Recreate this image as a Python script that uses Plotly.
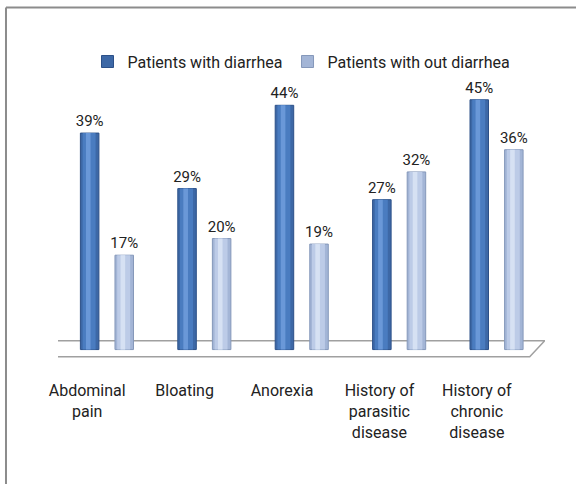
import plotly.graph_objects as go

categories = ["Abdominal<br>pain", "Bloating", "Anorexia",
              "History of<br>parasitic<br>disease", "History of<br>chronic<br>disease"]
with_diarrhea = [39, 29, 44, 27, 45]
without_diarrhea = [17, 20, 19, 32, 36]
series_names = ["Patients with diarrhea", "Patients with out diarrhea"]

FONT = "Roboto, Liberation Sans Narrow, DejaVu Sans Condensed, sans-serif"
xs = list(range(len(categories)))

fig = go.Figure()

BAR_W = 0.19
series = [
    (with_diarrhea, series_names[0], -0.27, "#3d68a6", "#4a7cc0", "#6a98d8", "#2c5088"),
    (without_diarrhea, series_names[1], 0.085, "#a3b5d6", "#bccbe7", "#d6e1f3", "#8598ba"),
]

for vals, name, off, edge, mid, hi, outline in series:
    # main bar (legend entry + labels)
    fig.add_trace(go.Bar(
        x=xs, y=vals, name=name, width=BAR_W, offset=off,
        marker=dict(color=edge, line=dict(color=outline, width=1)),
        text=[f"{v}%" for v in vals], textposition="outside",
        constraintext="none", textangle=0,
        textfont=dict(family=FONT, size=15, color="#222"), cliponaxis=False,
    ))
    # cylinder shading layers
    fig.add_trace(go.Bar(
        x=xs, y=vals, width=BAR_W * 0.7, offset=off + BAR_W * 0.12,
        marker=dict(color=mid, line=dict(width=0)), showlegend=False, hoverinfo="skip",
    ))
    fig.add_trace(go.Bar(
        x=xs, y=vals, width=BAR_W * 0.25, offset=off + BAR_W * 0.3,
        marker=dict(color=hi, line=dict(width=0)), showlegend=False, hoverinfo="skip",
    ))

# decorative floor (parallelogram)
fig.add_shape(type="path", xref="x", yref="y", layer="below",
              path="M -0.528 1.6 L 4.497 1.6 L 4.343 -1.3 L -0.662 -1.3 Z",
              fillcolor="white", line=dict(color="#a0a0a0", width=1.5))
# chart frame (top and left edges)
fig.add_shape(type="line", xref="paper", yref="paper",
              x0=-0.1068, x1=1.2, y0=1.217, y1=1.217, line=dict(color="#8c8c8c", width=2))
fig.add_shape(type="line", xref="paper", yref="paper",
              x0=-0.1068, x1=-0.1068, y0=1.217, y1=-0.4, line=dict(color="#8c8c8c", width=2))

fig.update_layout(
    width=576, height=484,
    margin=dict(l=58, r=31, t=72, b=115),
    paper_bgcolor="white", plot_bgcolor="white",
    barmode="overlay",
    showlegend=True,
    legend=dict(orientation="h", x=0.5, xanchor="center", y=1.035, yanchor="middle",
                font=dict(family=FONT, size=16, color="#222"),
                itemwidth=30, traceorder="normal"),
    xaxis=dict(range=[-0.5, 4.5], tickvals=[x - 0.2 for x in xs], ticktext=categories,
               showgrid=False, zeroline=False, showline=False, ticks="",
               tickfont=dict(family=FONT, size=16, color="#222"), ticklabelstandoff=10),
    yaxis=dict(range=[-3.5, 50], visible=False, showgrid=False, zeroline=False),
)

fig.write_html("out.html", config={"displayModeBar": False},
               post_script="document.body.style.margin='0';")
